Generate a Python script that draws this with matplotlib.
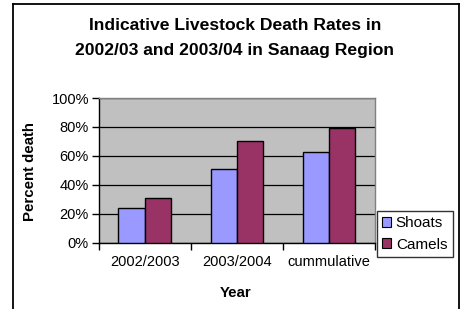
import matplotlib
matplotlib.use("Agg")
import matplotlib.pyplot as plt
import numpy as np
from matplotlib.lines import Line2D
from matplotlib.ticker import FixedLocator, FuncFormatter

plt.rcParams['font.family'] = ['Liberation Sans', 'DejaVu Sans']

categories = ["2002/2003", "2003/2004", "cummulative"]
shoats = [0.24, 0.51, 0.63]
camels = [0.31, 0.70, 0.79]
series_names = ["Shoats", "Camels"]
y_ticks = [0.0, 0.2, 0.4, 0.6, 0.8, 1.0]

W, H = 464, 309
fig = plt.figure(figsize=(W / 100, H / 100), dpi=100)
fig.patch.set_facecolor("white")

# plot area
l, r, t, b = 98.7, 375.0, 98.0, 242.7
ax = fig.add_axes([l / W, (H - b) / H, (r - l) / W, (b - t) / H])
ax.set_facecolor("#C0C0C0")

x = np.arange(len(categories))
bw = 1 / 3.5
ax.bar(x - bw / 2, shoats, width=bw, color="#9999FF", edgecolor="black", linewidth=1.0, label=series_names[0], zorder=3)
ax.bar(x + bw / 2, camels, width=bw, color="#993366", edgecolor="black", linewidth=1.0, label=series_names[1], zorder=3)

ax.set_xlim(-0.5, len(categories) - 0.5)
ax.set_ylim(0, 1.0)
ax.set_yticks(y_ticks)
ax.yaxis.set_major_formatter(FuncFormatter(lambda v, p: f"{v*100:.0f}%"))
ax.grid(axis="y", color="black", linewidth=0.9, zorder=1)
ax.set_axisbelow(True)

ax.set_xticks(x)
ax.set_xticklabels(categories)
ax.xaxis.set_minor_locator(FixedLocator(np.arange(len(categories) + 1) - 0.5))
ax.tick_params(axis="x", which="major", length=0, pad=9, labelsize=10.5)
ax.tick_params(axis="x", which="minor", length=5, width=1, color="black", direction="out")
ax.tick_params(axis="y", which="major", length=5, width=1, color="black", direction="out", pad=2, labelsize=10.5)

for s in ["top", "right"]:
    ax.spines[s].set_color("#808080")
    ax.spines[s].set_linewidth(1)
for s in ["left", "bottom"]:
    ax.spines[s].set_color("black")
    ax.spines[s].set_linewidth(1)

fig.text(30 / W, 1 - 172 / H, "Percent death", rotation=90, ha="center", va="center",
         fontsize=10.8, fontweight="bold")
fig.text(236 / W, 1 - 293 / H, "Year", ha="center", va="center", fontsize=10.8, fontweight="bold")

fig.text(235 / W, 1 - 26 / H, "Indicative Livestock Death Rates in", ha="center", va="center",
         fontsize=12.6, fontweight="bold")
fig.text(235 / W, 1 - 50 / H, "2002/03 and 2003/04 in Sanaag Region", ha="center", va="center",
         fontsize=12.6, fontweight="bold")

leg = fig.legend(loc="upper left", bbox_to_anchor=(376.7 / W, 1 - 210.7 / H),
                 frameon=True, fancybox=False, shadow=False, fontsize=11,
                 handlelength=0.6, handleheight=0.6, handletextpad=0.3,
                 borderpad=0.35, labelspacing=0.5, borderaxespad=0)
leg.get_frame().set_edgecolor("black")
leg.get_frame().set_linewidth(1)
for h in leg.legend_handles:
    h.set_edgecolor("black")
    h.set_linewidth(0.8)

# outer chart border (bottom is cut off)
bl, bt, br = 12.7, 4.0, 459.0
lw = 1.3
fig.add_artist(Line2D([bl / W, bl / W], [0, 1 - bt / H], color="black", linewidth=lw, transform=fig.transFigure))
fig.add_artist(Line2D([bl / W, br / W], [1 - bt / H, 1 - bt / H], color="black", linewidth=lw, transform=fig.transFigure))
fig.add_artist(Line2D([br / W, br / W], [0, 1 - bt / H], color="black", linewidth=lw, transform=fig.transFigure))

fig.savefig("out.png", dpi=100)
